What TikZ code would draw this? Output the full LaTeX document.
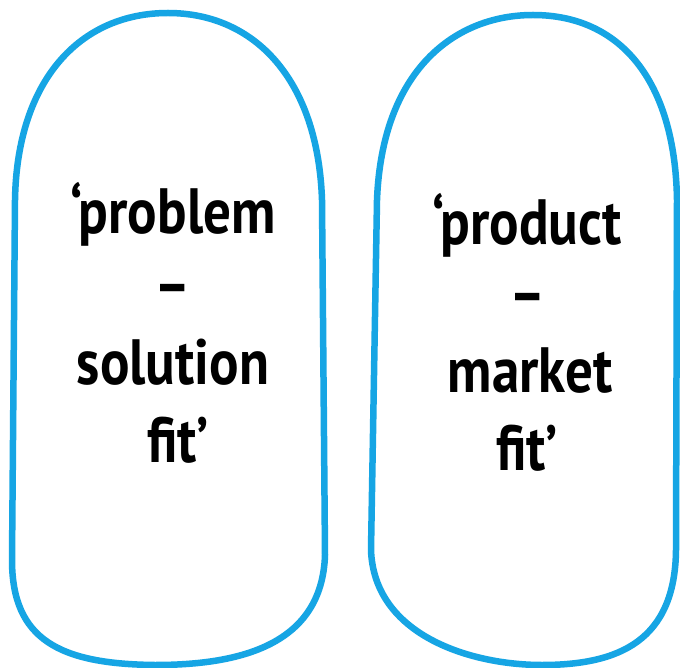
\documentclass[tikz,border=0pt]{standalone}
\usepackage{fontspec}
\setmainfont{PT Sans}
\usepackage{graphicx}
\definecolor{skyblue}{RGB}{22,165,228}
\begin{document}
\begin{tikzpicture}[x=1pt,y=-1pt,
  capsule/.style={draw=skyblue,line width=6.5pt,line join=round},
  word/.style={anchor=base,inner sep=0pt,font=\fontsize{64}{64}\selectfont\bfseries}]
\useasboundingbox (0,0) rectangle (680,668);
\fill[white] (0,0) rectangle (680,668);
% left capsule
\draw[capsule] (15,200) -- (12,560) .. controls (12,640) and (60,664) .. (155,665)
  .. controls (240,665) and (322,645) .. (325,555) -- (322,200)
  .. controls (318,80) and (255,13) .. (168,13)
  .. controls (80,13) and (17,80) .. (15,200) -- cycle;
% right capsule
\draw[capsule] (377,200) .. controls (382,70) and (455,15) .. (533,15)
  .. controls (620,15) and (675,80) .. (677,200) -- (676,550)
  .. controls (675,640) and (620,665) .. (542,665)
  .. controls (470,665) and (374,635) .. (371,550) -- cycle;
% left text
\node[word] (l1) at (173,234) {\scalebox{0.86}[1]{‘problem}};
\node[word] (l2) at (173,306) {\scalebox{0.86}[1]{–}};
\node[word] (l3) at (173,384) {\scalebox{0.86}[1]{solution}};
\node[word] (l4) at (178,462) {\scalebox{0.86}[1]{fit’}};
% right text
\node[word] (r1) at (527,245) {\scalebox{0.86}[1]{‘product}};
\node[word] (r2) at (528,316) {\scalebox{0.86}[1]{–}};
\node[word] (r3) at (530,392) {\scalebox{0.86}[1]{market}};
\node[word] (r4) at (527,470) {\scalebox{0.86}[1]{fit’}};
\end{tikzpicture}
\end{document}
